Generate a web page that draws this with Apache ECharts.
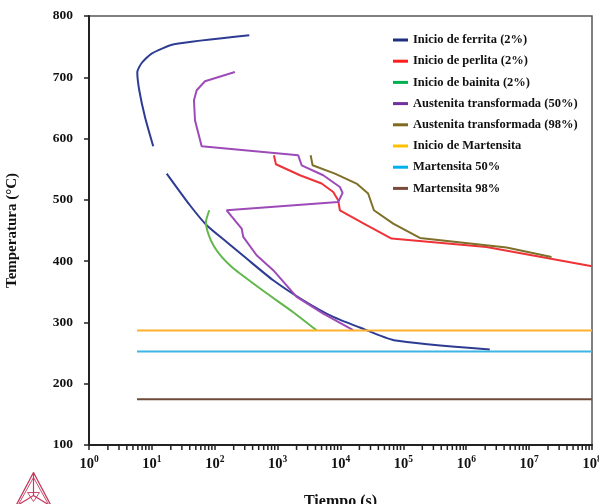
<!DOCTYPE html>
<html><head><meta charset="utf-8">
<script src="https://cdn.jsdelivr.net/npm/echarts@6/dist/echarts.min.js"></script>
<style>html,body{margin:0;padding:0;background:#fff}#c{width:599px;height:504px}</style>
</head><body><div id="c"></div>
<script>
// ---- data: [time (s), temperature (°C)] ----
const ferriteUpper = [[354,768.5],[22.5,753.8],[9.9,738.7],[6.88,723.3],[5.86,708.6],[6.3,678.8],[7.77,635.2],[10.5,587.4]];
const ferriteLower = [[17.2,542.9],[40.3,491.2],[74.3,458.6],[154.6,431.3],[321,404.2],[851,368.8],[2553,336.2],[7660,309],[20340,291.7],[70600,271],[2370000,255.8]];
const perlite = [[873,572.8],[940,558.1],[2264,540.1],[5011,526.6],[7660,512.9],[9190,499.3],[9780,483],[26000,458.6],[64900,436.9],[2100000,423.2],[100000000,391.7]];
const bainite = [[81.8,483],[72.4,463.5],[79.4,443.9],[97.1,424.3],[130,406.4],[181,391.7],[252,379.8],[668,347.6],[1770,316.6],[4170,287]];
const aust50 = [[209,708.6],[69.9,693.5],[51.6,678.8],[46.7,662.5],[48.5,629.8],[61.9,587.4],[2126,572.7],[2410,556.4],[5310,540.1],[9780,521],[10800,511.3],[9190,496.6],[154.6,483],[268,453.2],[284,439.5],[463,409.6],[851,385.2],[2004,341.6],[5310,314.5],[15900,287.3]];
const aust98 = [[3350,572.7],[3600,556.4],[8150,542.9],[18000,526.6],[27500,510.3],[34000,483],[68900,461.3],[183000,437.8],[4370000,422.2],[22700000,406.9]];
const msStart = [[5.8,287],[100000000,287]];
const ms50 = [[5.8,252.5],[100000000,252.5]];
const ms98 = [[5.8,174.7],[100000000,174.7]];
const seriesNames = ['Inicio de ferrita (2%)','Inicio de perlita (2%)','Inicio de bainita (2%)','Austenita transformada (50%)','Austenita transformada (98%)','Inicio de Martensita','Martensita 50%','Martensita 98%'];
const yTicks = [100,200,300,400,500,600,700,800];
const xDecades = [0,1,2,3,4,5,6,7,8];

const lineColors = ['#2D3C92','#EE3338','#62B74B','#9C4BB8','#7E7028','#FFB12E','#3DB6E6','#6E4A3A'];
const legendColors = ['#1F2F80','#FF1E1E','#00B050','#7030A0','#7F6A1E','#FFC000','#00B0F0','#7A4A3A'];
const FONT = '"Liberation Serif", "Times New Roman", serif';

const minorTicks = [];
xDecades.slice(0,-1).forEach(k => { for (let m=2;m<=9;m++) minorTicks.push([m*Math.pow(10,k),100]); });

function mk(name, data, color, smooth){
  return {name, type:'line', data, showSymbol:false, symbol:'none', smooth:smooth||false,
    lineStyle:{color, width:2}, itemStyle:{color}, animation:false, z:3};
}

const chart = echarts.init(document.getElementById('c'), null, {renderer:'canvas'});
chart.setOption({
  animation:false,
  backgroundColor:'#fff',
  grid:{left:89, right:7, top:16, bottom:59, containLabel:false, outerBoundsMode:'none', show:true, borderColor:'#555', borderWidth:1.5, backgroundColor:'transparent'},
  legend:{
    orient:'vertical', left:388, top:28, itemWidth:15, itemHeight:3, itemGap:7.2, icon:'rect',
    textStyle:{fontFamily:FONT, fontWeight:'bold', fontSize:12.5, color:'#111', lineHeight:14},
    data: seriesNames.map((n,i)=>({name:n, itemStyle:{color:legendColors[i]}})),
    selectedMode:false
  },
  xAxis:{
    type:'log', logBase:10, min:1, max:1e8, splitNumber:8,
    name:'Tiempo (s)', nameLocation:'middle', nameGap:49,
    nameTextStyle:{fontFamily:FONT, fontWeight:'bold', fontSize:16, color:'#111'},
    axisLine:{lineStyle:{color:'#222', width:2}},
    axisTick:{show:true, length:5, lineStyle:{color:'#222', width:1.5}},
    splitLine:{show:false},
    axisLabel:{margin:10, color:'#111',
      formatter:(v)=>'{b|10}{s|' + Math.round(Math.log10(v)) + '}',
      rich:{b:{fontFamily:FONT, fontWeight:'bold', fontSize:14.5, lineHeight:18, color:'#111'},
            s:{fontFamily:FONT, fontWeight:'bold', fontSize:9.5, lineHeight:18, verticalAlign:'top', color:'#111', padding:[0,0,6,0]}}}
  },
  yAxis:{
    type:'value', min:100, max:800, interval:100,
    name:'Temperatura (°C)', nameLocation:'middle', nameGap:69, nameRotate:90,
    nameTextStyle:{fontFamily:FONT, fontWeight:'bold', fontSize:15, color:'#111'},
    axisLine:{show:true, lineStyle:{color:'#222', width:2}},
    axisTick:{show:true, length:5, lineStyle:{color:'#222', width:1.5}},
    splitLine:{show:false},
    axisLabel:{margin:16, fontFamily:FONT, fontWeight:'bold', fontSize:13.5, color:'#111'}
  },
  series:[
    mk(seriesNames[0], ferriteUpper, lineColors[0], 0.2),
    mk(seriesNames[0], ferriteLower, lineColors[0], 0.2),
    mk(seriesNames[1], perlite, lineColors[1]),
    mk(seriesNames[2], bainite, lineColors[2], 0.2),
    mk(seriesNames[3], aust50, lineColors[3]),
    mk(seriesNames[4], aust98, lineColors[4]),
    mk(seriesNames[5], msStart, lineColors[5]),
    mk(seriesNames[6], ms50, lineColors[6]),
    mk(seriesNames[7], ms98, lineColors[7]),
    {type:'custom', name:'minorTicks', data:minorTicks, silent:true, clip:false, z:5,
      renderItem:(params, api)=>{
        const p = api.coord([api.value(0), api.value(1)]);
        return {type:'line', shape:{x1:p[0], y1:p[1], x2:p[0], y2:p[1]+5}, style:{stroke:'#222', lineWidth:1.5}};
      }}
  ],
  graphic:[
    {type:'group', left:13, top:470, silent:true, children:[
      {type:'polyline', shape:{points:[[20,0],[2,34],[38,34],[20,0]]}, style:{stroke:'#C33A5E', fill:null, lineWidth:1.3}},
      {type:'polyline', shape:{points:[[20,5],[5,32],[35,32],[20,5]]}, style:{stroke:'#C33A5E', fill:null, lineWidth:0.9}},
      {type:'polyline', shape:{points:[[20,0],[20,23],[2,34]]}, style:{stroke:'#C33A5E', fill:null, lineWidth:1.2}},
      {type:'line', shape:{x1:20,y1:23,x2:38,y2:34}, style:{stroke:'#C33A5E', lineWidth:1.2}},
      {type:'polyline', shape:{points:[[14,20],[26,20],[20,29],[14,20]]}, style:{stroke:'#C33A5E', fill:null, lineWidth:0.9}}
    ]}
  ]
});
</script></body></html>
